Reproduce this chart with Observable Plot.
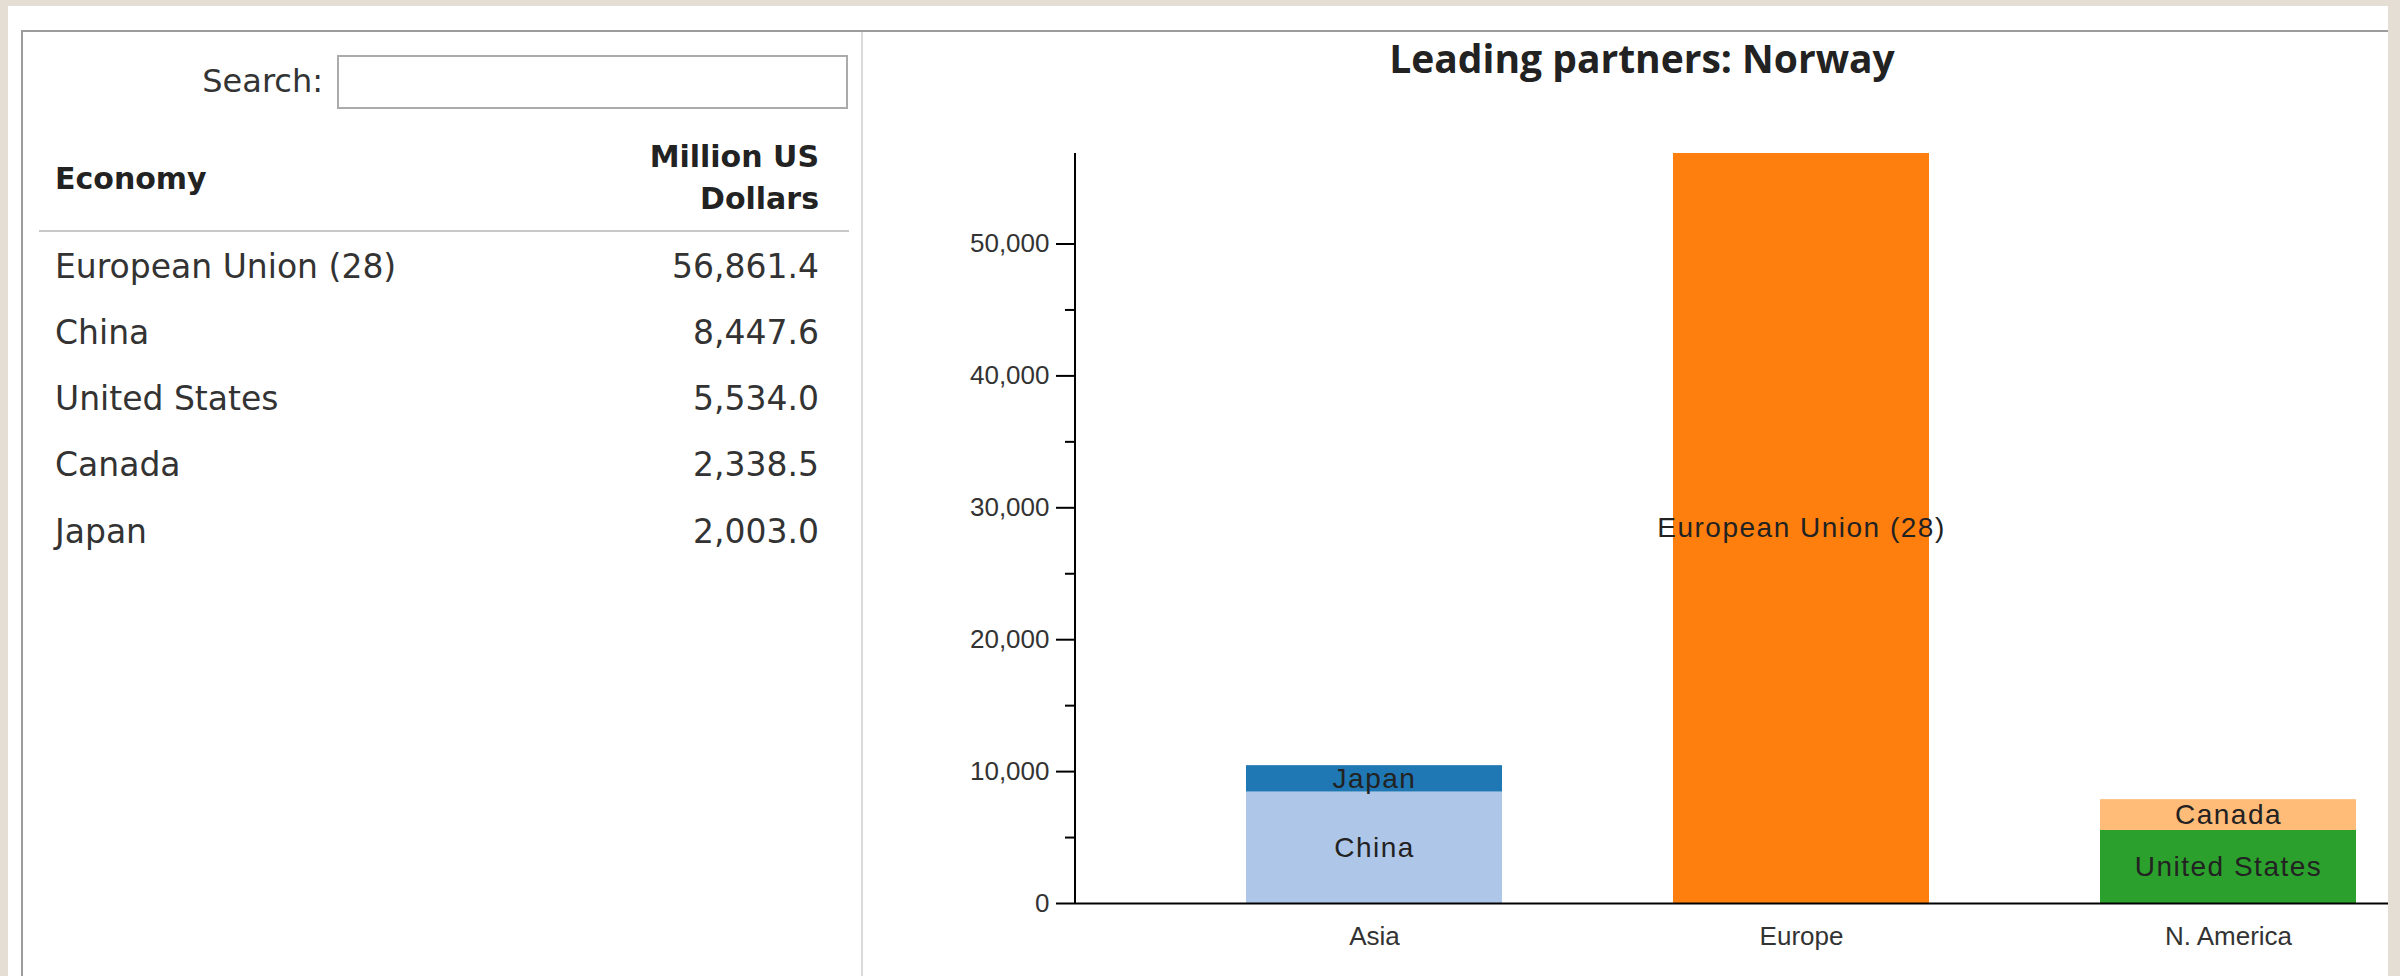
<!DOCTYPE html>
<html>
<head>
<meta charset="utf-8">
<script src="https://cdn.jsdelivr.net/npm/d3@7"></script>
<script src="https://cdn.jsdelivr.net/npm/@observablehq/plot@0.6"></script>
<style>
  html, body { margin: 0; padding: 0; }
  body { width: 2400px; height: 976px; background: #e4ded4; position: relative; overflow: hidden;
         font-family: "DejaVu Sans", sans-serif; color: #333; }
  .abs { position: absolute; }
  #page { left: 8px; top: 6px; width: 2380px; height: 980px; background: #fff; }
  #frameTop { left: 21px; top: 30px; width: 2367px; height: 2px; background: #9c9c9c; }
  #frameLeft { left: 21px; top: 30px; width: 2px; height: 960px; background: #9c9c9c; }
  #divider { left: 861px; top: 32px; width: 2px; height: 960px; background: #dadada; }
  #searchLabel { left: 0; width: 323px; top: 61px; text-align: right; font-size: 32px; line-height: 40px; }
  #searchBox { left: 337px; top: 55px; width: 511px; height: 54px; border: 2px solid #ababab; box-sizing: border-box; background: #fff; }
  #hEconomy { left: 55px; top: 157.6px; font-weight: bold; font-size: 30px; line-height: 42px; color: #222; }
  #hValue { left: 0; width: 819px; top: 135.6px; text-align: right; font-weight: bold; font-size: 30px; line-height: 42px; color: #222; }
  #hLine { left: 39px; top: 230px; width: 810px; height: 2px; background: #c9c9c9; }
  #rows { left: 0; top: 233.5px; width: 864px; }
  .row { position: relative; height: 66.3px; line-height: 66.3px; font-size: 33px; white-space: nowrap; }
  .row .name { position: absolute; left: 55px; }
  .row .val { position: absolute; right: 45px; }
  #title { left: 1642px; top: 31px; transform: translateX(-50%); white-space: nowrap;
           font-family: "Open Sans", sans-serif; font-weight: 700; font-size: 39px; line-height: 53px; color: #222; }
  #chart { left: 862px; top: 100px; width: 1526px; height: 876px; overflow: hidden; }
  #chart svg { max-width: none; }
  #chart g[aria-label="text"] text { letter-spacing: 1.5px; }
  #chart g[aria-label="y-axis tick label"], #chart g[aria-label="x-axis tick label"] { fill: #333; }
</style>
</head>
<body>
<div id="page" class="abs"></div>
<div id="frameTop" class="abs"></div>
<div id="frameLeft" class="abs"></div>
<div id="divider" class="abs"></div>
<div id="searchLabel" class="abs">Search:</div>
<div id="searchBox" class="abs"></div>
<div id="hEconomy" class="abs">Economy</div>
<div id="hValue" class="abs">Million US<br>Dollars</div>
<div id="hLine" class="abs"></div>
<div id="rows" class="abs"></div>
<div id="title" class="abs">Leading partners: Norway</div>
<div id="chart" class="abs"></div>
<script>
// ---- data ----
const regions = ["Asia", "Europe", "N. America"];
const economies = ["European Union (28)", "China", "United States", "Canada", "Japan"];
const values = [56861.4, 8447.6, 5534.0, 2338.5, 2003.0];
const economyRegion = ["Europe", "Asia", "N. America", "N. America", "Asia"];
const economyColors = ["#ff7f0e", "#aec7e8", "#2ca02c", "#ffbb78", "#1f77b4"];
const yMajorTicks = [0, 10000, 20000, 30000, 40000, 50000];
const yMinorTicks = [5000, 15000, 25000, 35000, 45000];

const data = economies.map((e, i) => ({economy: e, region: economyRegion[i], value: values[i]}));

// ---- table ----
const fmt = d3.format(",.1f");
const rows = d3.select("#rows");
data.forEach(d => {
  const r = rows.append("div").attr("class", "row");
  r.append("span").attr("class", "name").text(d.economy);
  r.append("span").attr("class", "val").text(fmt(d.value));
});

// ---- chart ----
const chart = Plot.plot({
  width: 1700,
  height: 876,
  marginLeft: 213,
  marginRight: 35,
  marginTop: 53,
  marginBottom: 73,
  style: {background: "transparent", fontFamily: "'Liberation Sans', Arial, sans-serif", fontSize: "26px", color: "#000", maxWidth: "none"},
  x: {domain: regions, padding: 0.4, label: null},
  y: {label: null},
  color: {domain: economies, range: economyColors},
  marks: [
    Plot.barY(data, {x: "region", y: "value", fill: "economy", inset: 0}),
    Plot.text(data, Plot.stackY({x: "region", y: "value", text: "economy", fontSize: 28, fill: "#222"})),
    Plot.ruleY([0], {stroke: "#000", strokeWidth: 2}),
    Plot.axisY(yMinorTicks, {tickSize: 10, tickFormat: () => "", strokeWidth: 2, label: null}),
    Plot.axisY(yMajorTicks, {tickSize: 19, tickPadding: 7, tickFormat: d3.format(","), strokeWidth: 2, label: null}),
    Plot.axisX({tickSize: 0, tickPadding: 23, label: null})
  ]
});

// vertical axis line, placed from the plot's own scales
const sx = chart.scale("x"), sy = chart.scale("y");
d3.select(chart).append("line")
  .attr("x1", sx.range[0]).attr("x2", sx.range[0])
  .attr("y1", sy.range[0]).attr("y2", sy.range[1])
  .attr("stroke", "#000").attr("stroke-width", 2);

document.getElementById("chart").appendChild(chart);
</script>
</body>
</html>
